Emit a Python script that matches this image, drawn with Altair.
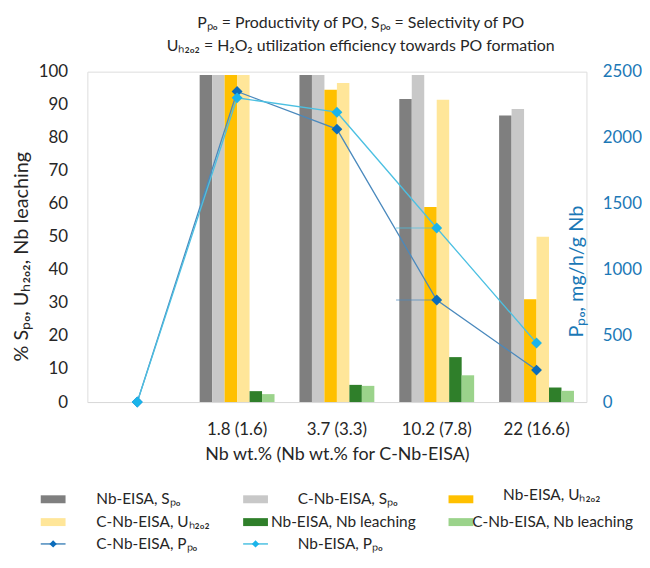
import altair as alt
import pandas as pd

# ---------------- data ----------------
cats = [" ", "1.8 (1.6)", "3.7 (3.3)", "10.2 (7.8)", "22 (16.6)"]
bar_cats = cats[1:]

bar_series = [
    "Nb-EISA, Sₚₒ",
    "C-Nb-EISA, Sₚₒ",
    "Nb-EISA, Uₕ₂ₒ₂",
    "C-Nb-EISA, Uₕ₂ₒ₂",
    "Nb-EISA, Nb leaching",
    "C-Nb-EISA, Nb leaching",
]
bar_colors = ["#7f7f7f", "#c8c8c8", "#ffc000", "#ffe699", "#2f7f2a", "#9bd38b"]

nb_s = [99, 99, 91.7, 86.7]
c_s = [99, 99, 99, 88.7]
nb_u = [99, 94.5, 59, 31.1]
c_u = [99, 96.6, 91.5, 50]
nb_leach = [3.3, 5.2, 13.6, 4.4]
c_leach = [2.4, 4.9, 8.1, 3.4]
bar_values = [nb_s, c_s, nb_u, c_u, nb_leach, c_leach]

line_series = ["C-Nb-EISA, Pₚₒ", "Nb-EISA, Pₚₒ"]
cnb_p = [0, 2350, 2065, 772, 242]
nb_p = [0, 2302, 2193, 1317, 447]
line_values = [cnb_p, nb_p]
line_colors = ["#4a89bd", "#4cc0e2"]
marker_colors = ["#0b6cbb", "#1ab4ea"]

# short horizontal strokes seen at the 10.2 group
stroke_cat = "10.2 (7.8)"

FONT = "Lato"
BLUE = "#1b78b6"
TXT = "#262626"

bar_rows = []
for s, vals in zip(bar_series, bar_values):
    for c, v in zip(bar_cats, vals):
        bar_rows.append({"cat": c, "series": s, "value": v})
bars_df = pd.DataFrame(bar_rows)

line_rows = []
for s, vals in zip(line_series, line_values):
    for c, v in zip(cats, vals):
        line_rows.append({"cat": c, "series": s, "p": v})
lines_df = pd.DataFrame(line_rows)
stroke_df = lines_df[lines_df["cat"] == stroke_cat]

x_enc = alt.X(
    "cat:N",
    sort=cats,
    scale=alt.Scale(paddingInner=0, paddingOuter=0),
    axis=alt.Axis(
        title="Nb wt.% (Nb wt.% for C-Nb-EISA)",
        labelAngle=0,
        labelFont=FONT,
        labelFontSize=17,
        labelColor=TXT,
        labelPadding=20,
        titleFont=FONT,
        titleFontSize=18,
        titleFontWeight="normal",
        titleColor=TXT,
        titlePadding=8,
        ticks=False,
        domainColor="#d9d9d9",
        domainWidth=1,
        grid=False,
    ),
)

bars = (
    alt.Chart(bars_df)
    .mark_bar()
    .encode(
        x=x_enc,
        xOffset=alt.XOffset(
            "series:N",
            sort=bar_series,
            scale=alt.Scale(paddingInner=0, paddingOuter=1),
        ),
        y=alt.Y(
            "value:Q",
            scale=alt.Scale(domain=[0, 100], nice=False),
            axis=alt.Axis(
                title="% Sₚₒ, Uₕ₂ₒ₂, Nb leaching",
                values=list(range(0, 101, 10)),
                labelFont=FONT,
                labelFontSize=17,
                labelColor=TXT,
                labelPadding=20,
                ticks=False,
                domain=False,
                grid=False,
                titleFont=FONT,
                titleFontSize=20,
                titleFontWeight="normal",
                titleColor=TXT,
                titleAngle=270,
                titleX=-66,
                titleY=186,
                titleAlign="center",
                titleBaseline="middle",
            ),
        ),
        color=alt.Color(
            "series:N",
            sort=bar_series,
            scale=alt.Scale(domain=bar_series, range=bar_colors),
            legend=None,
        ),
    )
)

y_right = alt.Y(
    "p:Q",
    scale=alt.Scale(domain=[0, 2500], nice=False),
    axis=alt.Axis(
        orient="right",
        title="Pₚₒ, mg/h/g Nb",
        values=list(range(0, 2501, 500)),
        format="d",
        labelFont=FONT,
        labelFontSize=17,
        labelColor=BLUE,
        labelPadding=16,
        ticks=False,
        domain=False,
        grid=False,
        titleFont=FONT,
        titleFontSize=20,
        titleFontWeight="normal",
        titleColor=BLUE,
        titleAngle=270,
        titleX=-10,
        titleY=201,
        titleAlign="center",
        titleBaseline="middle",
    ),
)

line_layers = []
for s, lc, mc in zip(line_series, line_colors, marker_colors):
    d = lines_df[lines_df["series"] == s]
    line_layers.append(
        alt.Chart(d).mark_line(color=lc, strokeWidth=1.3).encode(x=x_enc, y=y_right)
    )
for s, lc, mc in zip(line_series, line_colors, marker_colors):
    d = stroke_df[stroke_df["series"] == s]
    line_layers.append(
        alt.Chart(d)
        .mark_tick(orient="horizontal", size=41, thickness=1, xOffset=-20.5, color=lc)
        .encode(x=x_enc, y=y_right)
    )
for s, lc, mc in zip(line_series, line_colors, marker_colors):
    d = lines_df[lines_df["series"] == s]
    line_layers.append(
        alt.Chart(d)
        .mark_point(shape="diamond", filled=True, size=120, color=mc, opacity=1)
        .encode(x=x_enc, y=y_right)
    )

lines = alt.layer(*line_layers)

main = alt.layer(bars, lines).resolve_scale(y="independent")

# ---------------- legend (manual, below the plot) ----------------
legend_labels = bar_series + line_series
legend_kind = ["bar"] * 6 + ["line"] * 2
legend_color = bar_colors + marker_colors
legend_lcolor = bar_colors + line_colors
# layout: 3 columns x 3 rows (Excel-like placement)
sym_cx = [-34.5, 169.5, 376.5, -34.5, 169.5, 376.5, -34.5, 169.5]
row_y = [431, 454, 454, 454, 454, 454, 476, 476]
row_y = [431, 431, 431, 454, 454, 454, 476, 476]
text_x = [9, 212, 419, 9, 185, 388, 9, 212]
text_dy = [0, 0, -4, 0, 0, 0, 0, 0]

leg_df = pd.DataFrame(
    {
        "label": legend_labels,
        "kind": legend_kind,
        "color": legend_color,
        "lcolor": legend_lcolor,
        "cx": sym_cx,
        "x0": [c - 12.5 for c in sym_cx],
        "x1": [c + 12.5 for c in sym_cx],
        "cy": row_y,
        "y0": [r - 4 for r in row_y],
        "y1": [r + 4 for r in row_y],
        "tx": text_x,
        "ty": [r + d for r, d in zip(row_y, text_dy)],
    }
)

px = lambda f: alt.X(f, type="quantitative", scale=None, axis=None)
py = lambda f: alt.Y(f, type="quantitative", scale=None, axis=None)

leg_rect = (
    alt.Chart(leg_df)
    .transform_filter(alt.datum.kind == "bar")
    .mark_rect()
    .encode(
        x=px("x0"),
        x2="x1",
        y=py("y0"),
        y2="y1",
        color=alt.Color("color:N", scale=None),
    )
)
leg_rule = (
    alt.Chart(leg_df)
    .transform_filter(alt.datum.kind == "line")
    .mark_rule(strokeWidth=1.5)
    .encode(x=px("x0"), x2="x1", y=py("cy"), color=alt.Color("lcolor:N", scale=None))
)
leg_pt = (
    alt.Chart(leg_df)
    .transform_filter(alt.datum.kind == "line")
    .mark_point(shape="diamond", filled=True, size=55, opacity=1)
    .encode(x=px("cx"), y=py("cy"), color=alt.Color("color:N", scale=None))
)
leg_text = (
    alt.Chart(leg_df)
    .mark_text(align="left", baseline="middle", font=FONT, fontSize=15.5, color=TXT)
    .encode(x=px("tx"), y=py("ty"), text="label:N")
)
legend = alt.layer(leg_rect, leg_rule, leg_pt, leg_text)

chart = (
    alt.layer(main, legend)
    .resolve_scale(x="independent", y="independent")
    .properties(
        width=503,
        height=333,
        padding={"left": 4, "top": 5, "right": 0, "bottom": 0},
        title=alt.TitleParams(
            text=[
                "Pₚₒ = Productivity of PO, Sₚₒ = Selectivity of PO",
                "Uₕ₂ₒ₂ = H₂O₂ utilization efficiency towards PO formation",
            ],
            font=FONT,
            fontSize=16,
            fontWeight="normal",
            color=TXT,
            anchor="middle",
            frame="group",
            dx=24,
            lineHeight=23,
            offset=9,
        ),
    )
    .configure_view(stroke=None)
    .configure(background="white")
)

chart.save("out.html", embed_options={"renderer": "svg", "actions": False})
